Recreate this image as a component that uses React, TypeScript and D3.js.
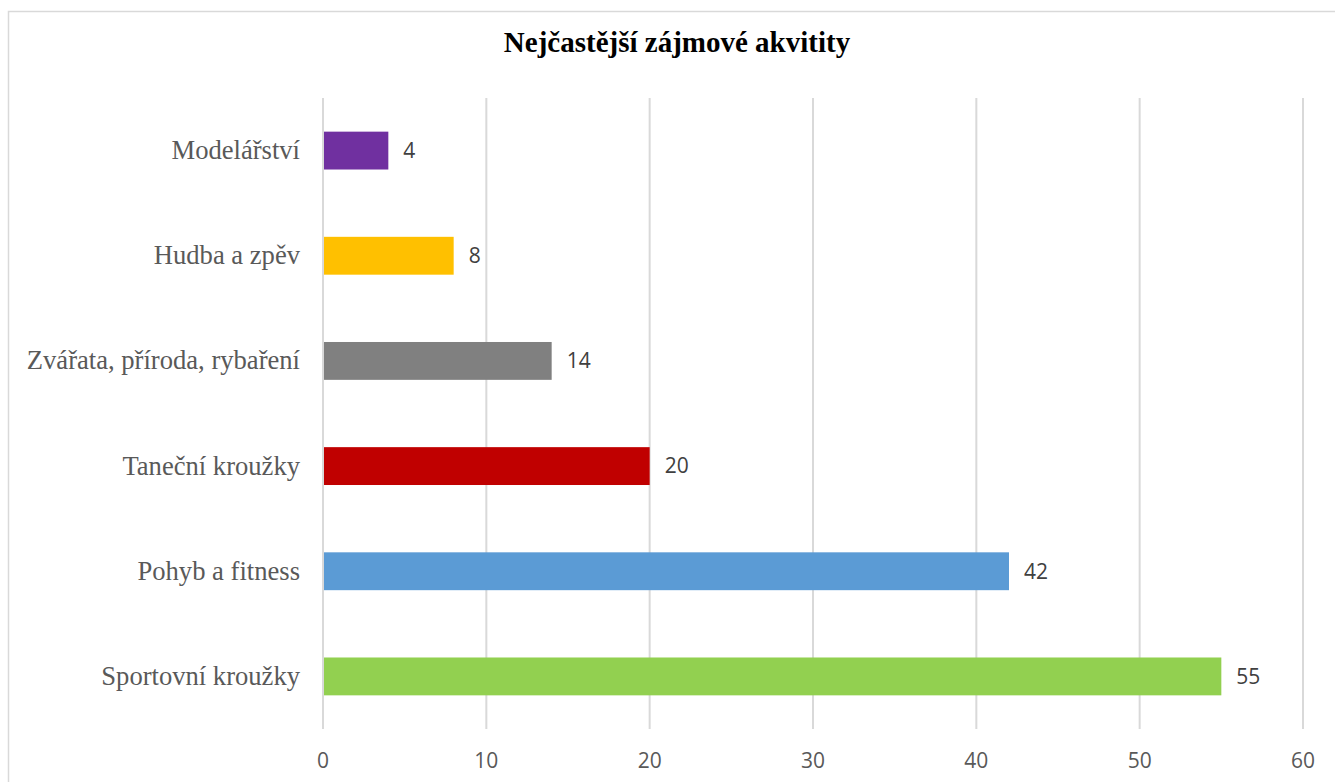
import React, { useEffect, useRef } from 'react';
import * as d3 from 'd3';

const categories: string[] = [
  'Modelářství',
  'Hudba a zpěv',
  'Zvářata, příroda, rybaření',
  'Taneční kroužky',
  'Pohyb a fitness',
  'Sportovní kroužky',
];
const values: number[] = [4, 8, 14, 20, 42, 55];
const barColors: string[] = ['#7030A0', '#FFC000', '#808080', '#C00000', '#5B9BD5', '#92D050'];
const xTicks: number[] = [0, 10, 20, 30, 40, 50, 60];
const title = 'Nejčastější zájmové akvitity';

const width = 1335;
const height = 782;
const margin = { top: 98, right: 32, bottom: 53, left: 323 };

const App: React.FC = () => {
  const ref = useRef<SVGSVGElement>(null);

  useEffect(() => {
    const svg = d3.select(ref.current);
    svg.selectAll('*').remove();

    const x = d3.scaleLinear()
      .domain([0, 60])
      .range([margin.left, width - margin.right]);

    const y = d3.scaleBand()
      .domain(categories)
      .range([margin.top, height - margin.bottom])
      .paddingInner(0.64)
      .paddingOuter(0.32);

    // chart border
    svg.append('rect')
      .attr('x', 8.5)
      .attr('y', 11.5)
      .attr('width', width + 20)
      .attr('height', height + 20)
      .attr('fill', '#fff')
      .attr('stroke', '#d9d9d9')
      .attr('stroke-width', 1.5);

    svg.append('text')
      .attr('x', 677)
      .attr('y', 52)
      .attr('text-anchor', 'middle')
      .attr('font-family', '"Liberation Serif", "Times New Roman", serif')
      .attr('font-weight', 'bold')
      .attr('font-size', 29)
      .attr('fill', '#000')
      .text(title);

    // gridlines
    svg.append('g')
      .selectAll('line')
      .data(xTicks)
      .enter()
      .append('line')
      .attr('x1', (d) => x(d))
      .attr('x2', (d) => x(d))
      .attr('y1', margin.top)
      .attr('y2', height - margin.bottom)
      .attr('stroke', '#d9d9d9')
      .attr('stroke-width', 2);

    // x tick labels
    svg.append('g')
      .selectAll('text')
      .data(xTicks)
      .enter()
      .append('text')
      .attr('x', (d) => x(d))
      .attr('y', 761)
      .attr('dy', '0.35em')
      .attr('text-anchor', 'middle')
      .attr('font-family', '"Open Sans", sans-serif')
      .attr('font-size', 21)
      .attr('fill', '#595959')
      .text((d) => d);

    // category labels
    svg.append('g')
      .selectAll('text')
      .data(categories)
      .enter()
      .append('text')
      .attr('x', 300)
      .attr('y', (d) => y(d)! + y.bandwidth() / 2)
      .attr('dy', '0.32em')
      .attr('text-anchor', 'end')
      .attr('font-family', '"Liberation Serif", "Times New Roman", serif')
      .attr('font-size', 26.6)
      .attr('fill', '#595959')
      .text((d) => d);

    // bars
    svg.append('g')
      .selectAll('rect')
      .data(values)
      .enter()
      .append('rect')
      .attr('x', x(0) + 1)
      .attr('y', (d, i) => y(categories[i])!)
      .attr('width', (d) => x(d) - x(0) - 1)
      .attr('height', y.bandwidth())
      .attr('fill', (d, i) => barColors[i]);

    // value labels
    svg.append('g')
      .selectAll('text')
      .data(values)
      .enter()
      .append('text')
      .attr('x', (d) => x(d) + 15)
      .attr('y', (d, i) => y(categories[i])! + y.bandwidth() / 2)
      .attr('dy', '0.35em')
      .attr('font-family', '"Open Sans", sans-serif')
      .attr('font-size', 21)
      .attr('fill', '#404040')
      .text((d) => d);
  }, []);

  return (
    <svg
      ref={ref}
      width={width}
      height={height}
      style={{ position: 'absolute', left: 0, top: 0, display: 'block' }}
    />
  );
};

export default App;
